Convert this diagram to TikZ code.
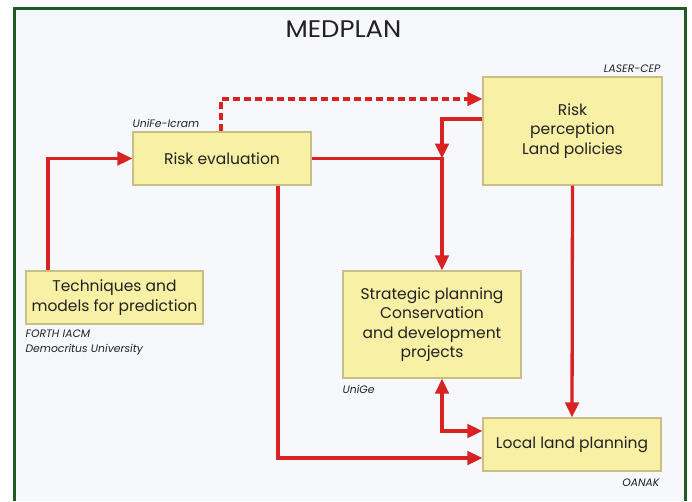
\documentclass[tikz,border=0pt]{standalone}
\usepackage{fontspec}
\setmainfont{Poppins}
\usetikzlibrary{arrows.meta}
\definecolor{frame}{HTML}{1E5C24}
\definecolor{bgc}{HTML}{F7F8FC}
\definecolor{boxfill}{HTML}{F8F0A4}
\definecolor{boxline}{HTML}{C9BE86}
\definecolor{conn}{HTML}{D92222}
\definecolor{txt}{HTML}{222222}
\tikzset{
  pbox/.style={draw=boxline, fill=boxfill, line width=1.2pt, inner sep=0pt,
    align=center, text=txt, font=\fontsize{15.5}{19.5}\selectfont},
  flow/.style={draw=conn, line width=3.3pt, -{Triangle[length=15pt,width=13.5pt]}},
  flow2/.style={draw=conn, line width=3.3pt, {Triangle[length=15pt,width=13.5pt]}-{Triangle[length=15pt,width=13.5pt]}},
  lbl/.style={text=txt, font=\itshape\fontsize{10.8}{15}\selectfont, inner sep=0pt}
}
\begin{document}
\begin{tikzpicture}[x=1pt,y=-1pt]
\useasboundingbox (0,0) rectangle (692,501);
\fill[white] (0,0) rectangle (692,501);
\fill[bgc] (14,8.5) rectangle (685,501);
\draw[frame, line width=3pt] (14,501) -- (14,8.5) -- (685,8.5) -- (685,501);

\node[text=txt, font=\fontsize{24}{28}\selectfont, xscale=1.08] (title) at (343.5,29) {MEDPLAN};

\node[pbox, minimum width=178pt, minimum height=53pt] (riskeval) at (222,158.5) {Risk evaluation};
\node[pbox, minimum width=179pt, minimum height=108pt] (riskper) at (572.5,131) {Risk\\perception\\Land policies};
\node[pbox, minimum width=177pt, minimum height=53pt] (tech) at (114.5,297.5) {Techniques and\\models for prediction};
\node[pbox, minimum width=178pt, minimum height=107pt] (strat) at (432,324.5) {Strategic planning\\Conservation\\and development\\projects};
\node[pbox, minimum width=178pt, minimum height=53pt] (local) at (572,444.5) {Local land planning};

\node[lbl, anchor=south west] (l1) at ([yshift=4pt]riskeval.north west) {UniFe-Icram};
\node[lbl, anchor=south east] (l2) at ([yshift=4pt,xshift=-2pt]riskper.north east) {LASER-CEP};
\node[lbl, anchor=north west, align=left] (l3) at ([yshift=-5pt]tech.south west) {FORTH IACM\\Democritus University};
\node[lbl, anchor=north west] (l4) at ([yshift=-6pt]strat.south west) {UniGe};
\node[lbl, anchor=north east] (l5) at ([yshift=-7pt,xshift=-2pt]local.south east) {OANAK};

\coordinate (j) at ([xshift=10pt]strat.north |- riskeval.east);

\draw[flow] ([xshift=-66.5pt]tech.north) |- (riskeval.west);
\draw[flow, dash pattern=on 7pt off 4pt] ([xshift=-1pt]riskeval.north) |- ([yshift=32pt]riskper.west);
\draw[flow] ([yshift=12pt]riskper.west) -| (j);
\draw[flow] (riskeval.east) -| ([xshift=10pt]strat.north);
\draw[flow] ([xshift=56pt]riskeval.south) |- ([yshift=-13.5pt]local.west);
\draw[flow] (riskper.south) -- (local.north);
\draw[flow2] ([xshift=10pt]strat.south) |- ([yshift=13.5pt]local.west);
\end{tikzpicture}
\end{document}
